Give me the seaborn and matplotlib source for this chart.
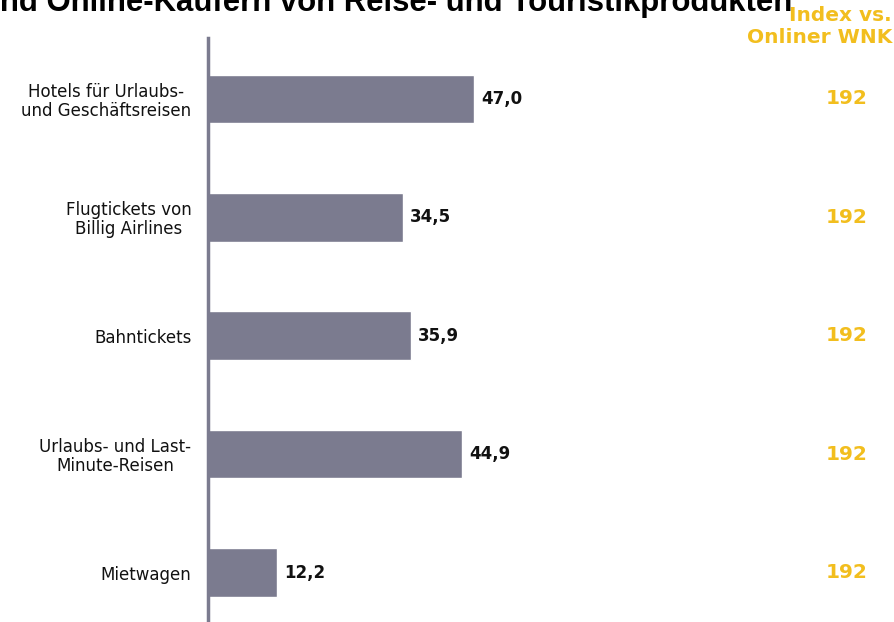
import matplotlib
matplotlib.use("Agg")
import matplotlib.pyplot as plt
import seaborn as sns
import pandas as pd

categories = [
    "Hotels für Urlaubs-\nund Geschäftsreisen",
    "Flugtickets von\nBillig Airlines",
    "Bahntickets",
    "Urlaubs- und Last-\nMinute-Reisen",
    "Mietwagen",
]
values = [47.0, 34.5, 35.9, 44.9, 12.2]
index_values = [192, 192, 192, 192, 192]
value_labels = ["47,0", "34,5", "35,9", "44,9", "12,2"]
title = "und Online-Käufern von Reise- und Touristikprodukten"
index_header = "Index vs.\nOnliner WNK"

bar_color = "#7b7b8f"
gold = "#f2be1e"

sns.set_theme(style="white")
plt.rcParams["font.family"] = ["DejaVu Sans"]

W, H = 894, 622
fig = plt.figure(figsize=(W / 100, H / 100), dpi=100)

# axes spans from the vertical spine (x=208) to the right edge
ax = fig.add_axes([208 / W, 0, (W - 208) / W, (H - 38) / H])
df = pd.DataFrame({"cat": categories, "val": values})
sns.barplot(data=df, y="cat", x="val", orient="h", color=bar_color,
            saturation=1, width=0.41, ax=ax)

px_per_unit = 5.66
ax.set_xlim(0, (W - 208) / px_per_unit)
spacing = 118.4
ax.set_ylim(4 + (622 - 572.5) / spacing, -(99 - 38) / spacing)

for sp in ["top", "right", "bottom"]:
    ax.spines[sp].set_visible(False)
ax.spines["left"].set_color(bar_color)
ax.spines["left"].set_linewidth(2.5)
ax.set_xticks([])
ax.set_xlabel("")
ax.set_ylabel("")
ax.tick_params(axis="y", length=0, pad=12)
ax.set_yticks(range(len(categories)))
ax.set_yticklabels(categories, fontsize=12, color="#111111",
                   multialignment="center", linespacing=1.05)

for i, (v, lab) in enumerate(zip(values, value_labels)):
    ax.annotate(lab, (v, i), xytext=(5, 0), textcoords="offset points",
                va="center", ha="left", fontsize=12, fontweight="bold",
                color="#111111")

# index column at fixed figure x, aligned to bar centers
for i, iv in enumerate(index_values):
    ax.annotate(str(iv), xy=(847 / W, i), xycoords=("figure fraction", "data"),
                ha="center", va="center", fontsize=14.5, fontweight="bold",
                color=gold, annotation_clip=False)

fig.text(892 / W, 1 - 6 / H, index_header, ha="right", va="top",
         fontsize=14.5, fontweight="bold", color=gold, linespacing=1.2,
         multialignment="right")

fig.text(-19 / W, 1 - 11 / H, title, ha="left", va="baseline",
         fontsize=22.4, fontweight="bold", color="black",
         family=["Liberation Sans", "DejaVu Sans"])

fig.savefig("out.png", dpi=100)
